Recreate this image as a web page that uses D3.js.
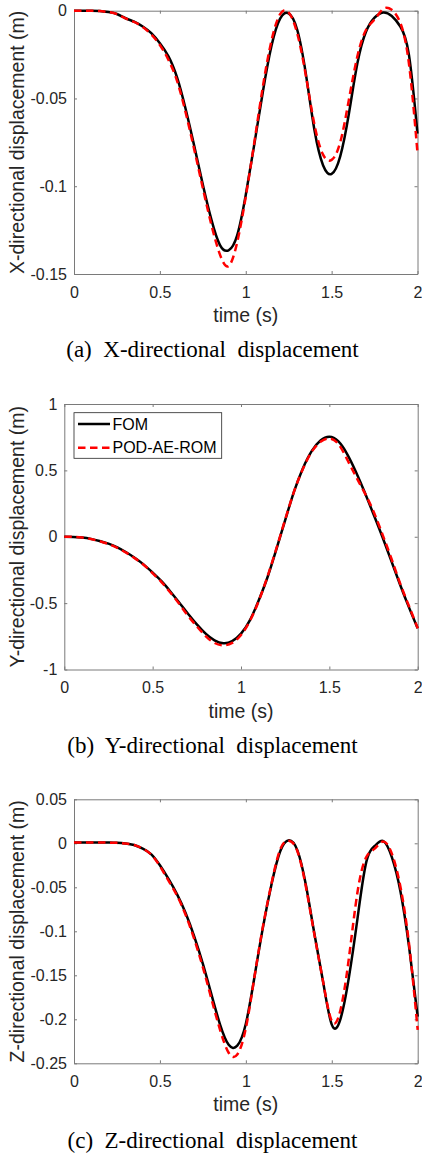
<!DOCTYPE html>
<meta charset="utf-8">
<script src="https://cdn.jsdelivr.net/npm/d3@7"></script>
<style>
body { margin: 0; background: #fff; }
svg text { font-family: "Liberation Sans", Arial, sans-serif; }
</style>
<body>
<script>

// time samples (s)
var time = [0, 0.05, 0.1, 0.15, 0.2, 0.25, 0.3, 0.35, 0.4, 0.45, 0.5, 0.55, 0.6, 0.65, 0.7, 0.75, 0.8, 0.85, 0.9, 0.95,
            1, 1.05, 1.1, 1.15, 1.2, 1.25, 1.3, 1.35, 1.4, 1.45, 1.5, 1.55, 1.6, 1.65, 1.7, 1.75, 1.8, 1.85, 1.9, 1.95, 2]

// X-directional displacement (m)
var xFom = [0, 0, 0, -0.0002, -0.0008, -0.0019, -0.0043, -0.0062, -0.009, -0.0128, -0.0185, -0.026, -0.038, -0.056, -0.077,
            -0.099, -0.119, -0.1335, -0.1365, -0.128, -0.105, -0.076, -0.046, -0.02, -0.0045, -0.0015, -0.011, -0.036, -0.068, -0.088,
            -0.093, -0.083, -0.059, -0.03, -0.012, -0.004, -0.001, -0.003, -0.009, -0.025, -0.07]
var xRom = [0, 0, 0, -0.0002, -0.0008, -0.002, -0.0044, -0.0064, -0.0093, -0.0135, -0.0195, -0.028, -0.04, -0.058, -0.079,
            -0.101, -0.122, -0.139, -0.1455, -0.132, -0.106, -0.075, -0.043, -0.017, -0.002, -0.001, -0.013, -0.037, -0.065, -0.082,
            -0.085, -0.075, -0.051, -0.026, -0.011, -0.005, 0.001, 0.0005, -0.007, -0.03, -0.081]

// Y-directional displacement (m)
var yFom = [0, -0.001, -0.006, -0.016, -0.032, -0.052, -0.08, -0.117, -0.16, -0.21, -0.27, -0.335, -0.412, -0.495, -0.58,
            -0.66, -0.73, -0.78, -0.802, -0.787, -0.73, -0.63, -0.48, -0.305, -0.095, 0.125, 0.34, 0.515, 0.645, 0.725,
            0.753, 0.72, 0.625, 0.49, 0.335, 0.17, 0, -0.18, -0.36, -0.53, -0.69]
var yRom = [0, -0.001, -0.006, -0.017, -0.034, -0.055, -0.083, -0.12, -0.163, -0.213, -0.275, -0.342, -0.42, -0.505, -0.595,
            -0.675, -0.748, -0.8, -0.818, -0.8, -0.74, -0.635, -0.485, -0.3, -0.09, 0.13, 0.34, 0.51, 0.64, 0.715,
            0.74, 0.7, 0.585, 0.455, 0.33, 0.19, 0.02, -0.16, -0.35, -0.52, -0.69]

// Z-directional displacement (m)
var zFom = [0.001, 0.001, 0.001, 0.001, 0.0008, 0.0005, -0.0002, -0.002, -0.006, -0.0125, -0.025, -0.0405, -0.058, -0.0795, -0.106,
            -0.137, -0.172, -0.206, -0.229, -0.23, -0.205, -0.152, -0.095, -0.046, -0.009, 0.0035, -0.008, -0.048, -0.104, -0.158,
            -0.206, -0.2, -0.152, -0.085, -0.022, -0.003, 0.0025, -0.016, -0.055, -0.118, -0.197]
var zRom = [0.001, 0.001, 0.001, 0.001, 0.0008, 0.0005, -0.0002, -0.002, -0.006, -0.013, -0.026, -0.0425, -0.0595, -0.0815, -0.109,
            -0.141, -0.177, -0.212, -0.238, -0.24, -0.21, -0.152, -0.094, -0.045, -0.007, 0.003, -0.009, -0.05, -0.105, -0.158,
            -0.202, -0.19, -0.13, -0.055, -0.016, -0.006, 0.002, -0.012, -0.05, -0.115, -0.212]

var timeTicks = [0, 0.5, 1, 1.5, 2]
var xTicks = [-0.15, -0.1, -0.05, 0]
var yTicks = [-1, -0.5, 0, 0.5, 1]
var zTicks = [-0.25, -0.2, -0.15, -0.1, -0.05, 0, 0.05]

var seriesNames = ["FOM", "POD-AE-ROM"]

var width = 422
var height = 1157

var svg = d3.select("body").append("svg")
            .attr("width", width)
            .attr("height", height)
            .style("display", "block")

svg.append("rect").attr("width", width).attr("height", height).attr("fill", "#fff")

var panels = [
  { fom: xFom, rom: xRom, domain: [-0.15, 0], ticks: xTicks, left: 74, right: 417.5, top: 10.7, bottom: 274,
    label: "X-directional displacement (m)", caption: "(a)  X-directional  displacement", capY: 357 },
  { fom: yFom, rom: yRom, domain: [-1, 1], ticks: yTicks, left: 64.3, right: 417.7, top: 404, bottom: 669.5,
    label: "Y-directional displacement (m)", caption: "(b)  Y-directional  displacement", capY: 753, legend: true },
  { fom: zFom, rom: zRom, domain: [-0.25, 0.05], ticks: zTicks, left: 74, right: 417.7, top: 799.3, bottom: 1063.3,
    label: "Z-directional displacement (m)", caption: "(c)  Z-directional  displacement", capY: 1148 }
]

var axisColor = "#262626"

panels.forEach(function(p) {
  var x = d3.scaleLinear().domain([0, 2]).range([p.left, p.right])
  var y = d3.scaleLinear().domain(p.domain).range([p.bottom, p.top])
  var g = svg.append("g")

  // box + inward ticks on all four sides
  g.append("g").attr("class", "axis")
    .attr("transform", "translate(0," + p.bottom + ")")
    .call(d3.axisBottom(x).tickValues(timeTicks).tickSizeInner(-3).tickSizeOuter(0).tickPadding(12.5).tickFormat(function(d) { return String(d) }))
  g.append("g").attr("class", "axis")
    .attr("transform", "translate(0," + p.top + ")")
    .call(d3.axisTop(x).tickValues(timeTicks).tickSizeInner(-3).tickSizeOuter(0).tickFormat(""))
  g.append("g").attr("class", "axis")
    .attr("transform", "translate(" + p.left + ",0)")
    .call(d3.axisLeft(y).tickValues(p.ticks).tickSizeInner(-3).tickSizeOuter(0).tickPadding(7).tickFormat(function(d) { return String(d) }))
  g.append("g").attr("class", "axis")
    .attr("transform", "translate(" + p.right + ",0)")
    .call(d3.axisRight(y).tickValues(p.ticks).tickSizeInner(-3).tickSizeOuter(0).tickFormat(""))

  g.selectAll(".axis path, .axis line").attr("stroke", "#7a7a7a").attr("stroke-width", 1)
  g.selectAll(".axis text").attr("fill", axisColor).style("font-size", "16px")

  var line = d3.line()
    .x(function(d, i) { return x(time[i]) })
    .y(function(d) { return y(d) })
    .curve(d3.curveNatural)

  g.append("path").attr("d", line(p.fom))
    .attr("fill", "none").attr("stroke", "#000").attr("stroke-width", 2.5)
  g.append("path").attr("d", line(p.rom))
    .attr("fill", "none").attr("stroke", "#ff0000").attr("stroke-width", 2.5)
    .attr("stroke-dasharray", "7.5,4.5")

  // axis titles
  g.append("text")
    .attr("x", (p.left + p.right) / 2).attr("y", p.bottom + 48)
    .attr("text-anchor", "middle").attr("fill", axisColor)
    .style("font-size", "19.5px").text("time (s)")
  g.append("text")
    .attr("transform", "translate(24," + ((p.top + p.bottom) / 2) + ") rotate(-90)")
    .attr("text-anchor", "middle").attr("fill", axisColor)
    .style("font-size", "19.5px").text(p.label)

  // caption
  g.append("text")
    .attr("x", 212.5).attr("y", p.capY)
    .attr("text-anchor", "middle").attr("fill", "#000")
    .style("font-family", "'Liberation Serif', 'Times New Roman', serif")
    .style("font-size", "23px").style("white-space", "pre")
    .text(p.caption)

  if (p.legend) {
    var lg = g.append("g")
    lg.append("rect").attr("x", 74).attr("y", 412.7).attr("width", 147.7).attr("height", 45.6)
      .attr("fill", "#fff").attr("stroke", "#262626").attr("stroke-width", 0.8)
    seriesNames.forEach(function(name, i) {
      var ly = 424 + i * 23.7
      lg.append("line").attr("x1", 78).attr("x2", 110).attr("y1", ly).attr("y2", ly)
        .attr("stroke", i == 0 ? "#000" : "#ff0000").attr("stroke-width", 2.5)
        .attr("stroke-dasharray", i == 0 ? null : "7.5,4.5")
      lg.append("text").attr("x", 112.5).attr("y", ly).attr("dy", "0.35em")
        .attr("fill", "#000").style("font-size", "16px").text(name)
    })
  }
})

</script>
</body>
